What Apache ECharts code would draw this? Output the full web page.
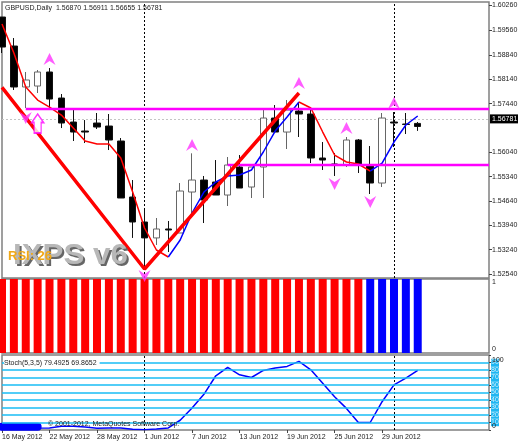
<!DOCTYPE html>
<html><head><meta charset="utf-8">
<style>html,body{margin:0;padding:0;background:#fff}#c{width:518px;height:444px}</style>
<script src="https://cdn.jsdelivr.net/npm/echarts@6/dist/echarts.min.js"></script>
</head><body><div id="c"></div>
<script>
const dates = ["16 May 2012","17 May 2012","18 May 2012","21 May 2012","22 May 2012","23 May 2012","24 May 2012","25 May 2012","28 May 2012","29 May 2012","30 May 2012","31 May 2012","1 Jun 2012","4 Jun 2012","5 Jun 2012","6 Jun 2012","7 Jun 2012","8 Jun 2012","11 Jun 2012","12 Jun 2012","13 Jun 2012","14 Jun 2012","15 Jun 2012","18 Jun 2012","19 Jun 2012","20 Jun 2012","21 Jun 2012","22 Jun 2012","25 Jun 2012","26 Jun 2012","27 Jun 2012","28 Jun 2012","29 Jun 2012","2 Jul 2012","3 Jul 2012","4 Jul 2012","5 Jul 2012","6 Jul 2012","9 Jul 2012","10 Jul 2012","11 Jul 2012","12 Jul 2012"];
// open, close, low, high
const candles = [
[1.59929,1.59066,1.58894,1.59929],[1.59095,1.57917,1.57831,1.59325],[1.57917,1.58118,1.57312,1.58348],[1.57945,1.58348,1.57744,1.58405],
[1.58348,1.57571,1.57312,1.58462],[1.57600,1.56881,1.56737,1.57715],[1.56910,1.56622,1.56364,1.57255],[1.56651,1.56622,1.56306,1.56967],
[1.56881,1.56766,1.56709,1.57169],[1.56795,1.56393,1.56105,1.57140],[1.56364,1.54725,1.54725,1.56450],[1.54754,1.54035,1.53577,1.55242],
[1.54035,1.53577,1.52712,1.54380],[1.53577,1.53834,1.53374,1.54150],[1.53834,1.53805,1.53172,1.54064],[1.53719,1.54926,1.53719,1.55156],
[1.54897,1.55242,1.54294,1.56010],[1.55242,1.54668,1.54006,1.55358],[1.55185,1.54811,1.54811,1.55817],[1.54811,1.55674,1.54495,1.55904],
[1.55616,1.55012,1.55012,1.55961],[1.55041,1.55616,1.54725,1.55616],[1.55616,1.57025,1.54725,1.57255],[1.57025,1.56622,1.56622,1.57399],
[1.56622,1.57255,1.56134,1.57542],[1.57226,1.57140,1.56479,1.57456],[1.57140,1.55875,1.55731,1.57312],[1.55875,1.55817,1.55530,1.56335],
[1.55703,1.55690,1.55358,1.56019],[1.55674,1.56393,1.55616,1.56479],[1.56393,1.55703,1.55444,1.56421],[1.55674,1.55156,1.54840,1.56220],
[1.55156,1.57025,1.55041,1.57169],[1.56910,1.56881,1.56191,1.57198],[1.56853,1.56840,1.56565,1.57169],[1.56870,1.56781,1.56655,1.56911]];
const redLineA = [[0,1.59728],[1,1.58894],[2,1.57917],[3,1.57542],[4,1.57340],[5,1.57111],[6,1.56737],[7,1.56364],[8,1.56278],[9,1.56278],[10,1.55875],[11,1.54897],[12,1.53863],[13,1.53230],[14,1.53029]];
const blueLineA = [[14,1.53029],[15,1.53518],[16,1.54294],[17,1.54897],[18,1.55185],[19,1.55358],[20,1.55386],[21,1.55530],[22,1.56048],[23,1.56651],[24,1.57054],[25,1.57486]];
const redLineB = [[25,1.57486],[26,1.57312],[27,1.56622],[28,1.55961],[29,1.55760],[30,1.55703],[31,1.55501]];
const blueLineB = [[31,1.55501],[32,1.55731],[33,1.56335],[34,1.56824],[35,1.57083]];
const zigzag = [[0,1.57907],[12,1.52684],[25,1.57744]];
const resistance = [[2,1.57284],[41,1.57284]];
const support = [[19,1.55674],[41,1.55674]];
const upArrows = [[4,1.58721],[16,1.56249],[25,1.58030],[29,1.56737],[33,1.57456]];
const downArrows = [[28,1.55127],[31,1.54610],[12,1.52482],[2,1.57025]];
const bigArrow = [[3,1.56867]];
const lastPrice = 1.56781;
const priceTicks = [1.5254,1.5324,1.5394,1.5464,1.5534,1.5604,1.5744,1.5814,1.5884,1.5956,1.6026];
const histUp = [1,1,1,1,1,1,1,1,1,1,1,1,1,1,1,1,1,1,1,1,1,1,1,1,1,1,1,1,1,1,1];
const histDown = [null,null,null,null,null,null,null,null,null,null,null,null,null,null,null,null,null,null,null,null,null,null,null,null,null,null,null,null,null,null,null,1,1,1,1,1];
const stoch = [2.3,2.5,2.5,2.5,2.7,5,5,4,2.3,2.7,2.7,0.9,0.5,1.3,2.7,13,29.2,47.6,72.3,83.4,73.6,70,79.4,82.6,84.8,91.5,80.3,62.4,44.4,28.8,10,10,37.7,60.2,69.2,79.5];
const stochBlob = [4.3,4.3,4.3,4.3];
const stochLevels = [10,20,30,40,50,60,70,80,90];
const xLabelEvery = [0,4,8,12,16,20,24,28,32];
const cursorDates = ["1 Jun 2012","2 Jul 2012"];
const FONT = '"Liberation Sans"';
const FS = 7;
const GRAY = '#808080';
const ARROW = 'path://M6 0L12 12L6 8L0 12Z';
const BLOCK = 'path://M6 0L12 8L9.5 8L9.5 18L2.5 18L2.5 8L0 8Z';
const cursorLine = (z)=>({silent:true,symbol:'none',z:z||1,animation:false,label:{show:false},
  lineStyle:{color:'#000',type:[2,2],width:1},data:cursorDates.map(d=>({xAxis:d}))});
const xBase = {type:'category',data:dates,boundaryGap:false,axisLine:{show:false},axisTick:{show:false},axisLabel:{show:false},splitLine:{show:false}};
const L = 2, W = 487;
const chart = echarts.init(document.getElementById('c'),null,{renderer:'canvas'});
const lineS = (data,color,width,z,extra)=>Object.assign({type:'line',xAxisIndex:0,yAxisIndex:0,data,symbol:'none',z,
  lineStyle:{color,width},silent:true},extra||{});
const gridBase = {left:L,width:W,show:true,borderColor:GRAY,borderWidth:1.5,backgroundColor:'#fff',outerBoundsMode:'none',containLabel:false};
chart.setOption({
  animation:false,backgroundColor:'#fff',
  grid:[
    Object.assign({top:2,height:276},gridBase),
    Object.assign({top:279,height:74},gridBase),
    Object.assign({top:355,height:75},gridBase)],
  xAxis:[
    Object.assign({gridIndex:0},xBase),
    Object.assign({gridIndex:1},xBase),
    {gridIndex:2,type:'category',data:dates,boundaryGap:false,axisLine:{show:false},splitLine:{show:false},
      axisTick:{show:true,length:3,interval:i=>xLabelEvery.includes(i),lineStyle:{color:'#444'}},
      axisLabel:{show:true,interval:i=>xLabelEvery.includes(i),align:'left',margin:4,fontFamily:FONT,fontSize:FS,color:'#222'}}],
  yAxis:[
    {gridIndex:0,type:'value',position:'right',min:1.52425,max:1.60361,scale:true,splitLine:{show:false},axisLine:{show:false},
      axisTick:{show:true,length:3,customValues:priceTicks,lineStyle:{color:'#444'}},
      axisLabel:{customValues:priceTicks,margin:3,fontFamily:FONT,fontSize:FS,color:'#222',formatter:v=>v.toFixed(5)}},
    {gridIndex:1,type:'value',position:'right',min:0,max:1,interval:1,splitLine:{show:false},axisLine:{show:false},
      axisTick:{show:false},axisLabel:{margin:3,fontFamily:FONT,fontSize:FS,color:'#222',verticalAlignMaxLabel:'top',verticalAlignMinLabel:'bottom'}},
    {gridIndex:2,type:'value',position:'right',min:0,max:100,interval:10,splitLine:{show:false},axisLine:{show:false},
      axisTick:{show:true,length:2,lineStyle:{color:'#444'}},
      axisLabel:{margin:2,customValues:stochLevels,fontFamily:FONT,fontSize:FS,
        formatter:v=>`{c|${v}}`,
        rich:{c:{backgroundColor:'#1eb6f2',color:'#cdeefc',fontFamily:FONT,fontSize:FS,width:8,height:7.43,lineHeight:7.43}}}}],
  series:[
    {type:'candlestick',name:'GBPUSD',xAxisIndex:0,yAxisIndex:0,data:candles,barWidth:7,z:2,silent:true,
      itemStyle:{color:'#fff',color0:'#000',borderColor:'#666',borderColor0:'#111',borderWidth:1},
      markLine:{silent:true,symbol:'none',z:1,animation:false,lineStyle:{color:'#c4c4c4',type:[2,2],width:1},
        label:{position:'end',distance:1,formatter:()=>lastPrice.toFixed(5),backgroundColor:'#000',color:'#fff',fontFamily:FONT,fontSize:FS,padding:[1,1,1,2]},
        data:[{yAxis:lastPrice}]}},
    lineS([], '#000',1,1,{markLine:cursorLine(1)}),
    lineS(redLineA,'#ff0000',1.5,3),
    lineS(blueLineA,'#0000ff',1.5,3),
    lineS(redLineB,'#ff0000',1.5,3),
    lineS(blueLineB,'#0000ff',1.5,3),
    lineS(resistance,'#ff00ff',2.5,4),
    lineS(support,'#ff00ff',2.5,4),
    lineS(zigzag,'#ff0000',3.5,5),
    {type:'scatter',xAxisIndex:0,yAxisIndex:0,data:upArrows,symbol:ARROW,symbolSize:12,z:6,silent:true,itemStyle:{color:'#ff33ff'}},
    {type:'scatter',xAxisIndex:0,yAxisIndex:0,data:downArrows,symbol:ARROW,symbolSize:12,symbolRotate:180,z:6,silent:true,itemStyle:{color:'#ff33ff'}},
    {type:'scatter',xAxisIndex:0,yAxisIndex:0,data:bigArrow,symbol:BLOCK,symbolSize:[12,19],z:6,silent:true,itemStyle:{color:'#fff',borderColor:'#ff00ff',borderWidth:1.5}},
    {type:'bar',xAxisIndex:1,yAxisIndex:1,data:histUp,barWidth:8,barGap:'-100%',silent:true,itemStyle:{color:'#ff0000'},z:2},
    {type:'bar',xAxisIndex:1,yAxisIndex:1,data:histDown,barWidth:8,barGap:'-100%',silent:true,itemStyle:{color:'#0000ff'},z:2},
    {type:'line',xAxisIndex:2,yAxisIndex:2,data:stoch,symbol:'none',z:2,silent:true,lineStyle:{color:'#0000ff',width:1.5}},
    {type:'line',xAxisIndex:2,yAxisIndex:2,data:stochBlob,symbol:'none',z:2,silent:true,lineStyle:{color:'#0000ff',width:8,cap:'round'}},
    {type:'line',xAxisIndex:2,yAxisIndex:2,data:[],symbol:'none',z:1,silent:true,markLine:cursorLine(1)},
    {type:'line',xAxisIndex:2,yAxisIndex:2,data:[],symbol:'none',z:3,silent:true,
      markLine:{silent:true,symbol:'none',z:3,animation:false,label:{show:false},lineStyle:{color:'#18bdf5',type:'solid',width:1.5},data:stochLevels.map(v=>({yAxis:v}))}}
  ],
  graphic:[
    {type:'text',left:5,top:5,z:20,style:{text:'GBPUSD,Daily  1.56870 1.56911 1.56655 1.56781',fontFamily:FONT,fontSize:FS,fill:'#222'}},
    {type:'text',x:15,y:243,scaleX:1.08,z:19,style:{text:'IXPS v6',fontFamily:FONT,fontWeight:'bold',fontSize:29,fill:'#666'}},
    {type:'text',x:13,y:241,scaleX:1.08,z:20,style:{text:'IXPS v6',fontFamily:FONT,fontWeight:'bold',fontSize:29,fill:'#b8b8b8'}},
    {type:'text',left:8,top:250,z:21,style:{text:'RSI: 26',fontFamily:FONT,fontWeight:'bold',fontSize:13,fill:'#f0a818'}},
    {type:'text',left:4,top:359,z:20,style:{text:'Stoch(5,3,5) 79.4925 69.8652',fontFamily:FONT,fontSize:FS,fill:'#222',backgroundColor:'#fff',padding:[1,3,1,0]}},
    {type:'text',left:48,top:421,z:20,style:{text:'© 2001-2012, MetaQuotes Software Corp.',fontFamily:FONT,fontSize:FS,fill:'#222'}},
    {type:'text',x:492,y:357,z:20,style:{text:'100',fontFamily:FONT,fontSize:FS,fill:'#222'}},
    {type:'text',x:492,y:423,z:20,style:{text:'0',fontFamily:FONT,fontSize:FS,fill:'#222'}}
  ]
});
</script></body></html>
